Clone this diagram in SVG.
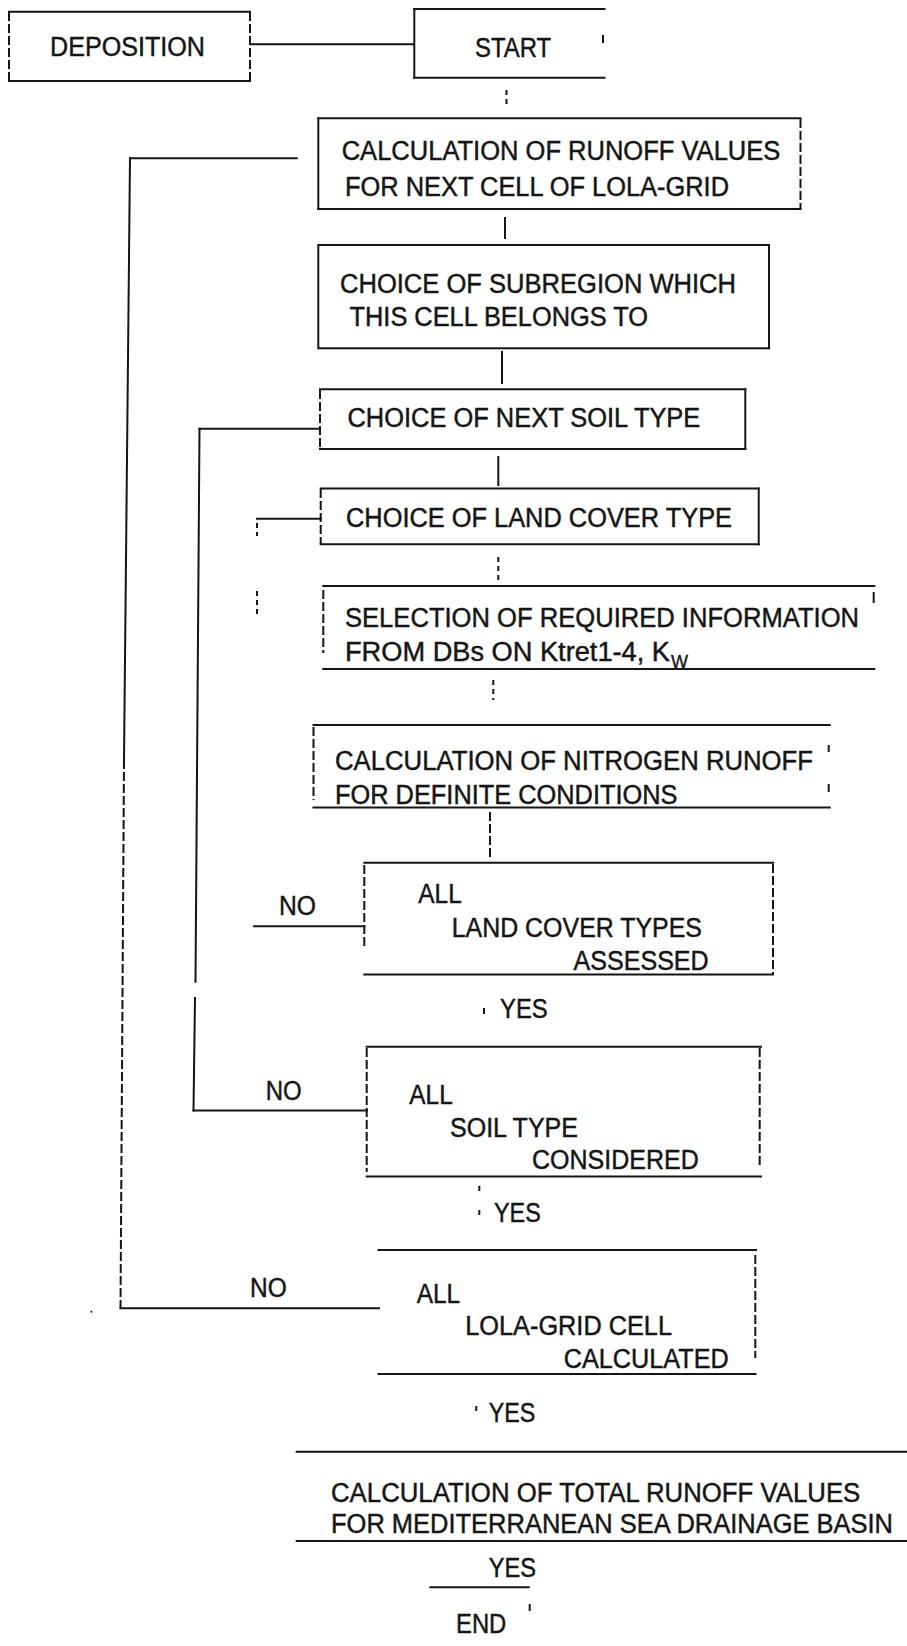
<svg xmlns="http://www.w3.org/2000/svg" width="907" height="1646" viewBox="0 0 907 1646">
<style>
  .ln { stroke: #151515; stroke-width: 2; fill: none; stroke-linecap: square; }
  .ds { stroke: #151515; stroke-width: 2; fill: none; stroke-dasharray: 9 3; }
  .dl { stroke: #151515; stroke-width: 2; fill: none; stroke-dasharray: 5 4; }
  .t { font-family: "Liberation Sans", Arial, sans-serif; font-size: 27px; fill: #151515; stroke: #151515; stroke-width: 0.45; }
  .sub { font-family: "Liberation Sans", Arial, sans-serif; font-size: 18px; fill: #151515; stroke: #151515; stroke-width: 0.35; }
</style>
<rect x="0" y="0" width="907" height="1646" fill="#ffffff"/>

<g id="connectors">
  <line class="ln" x1="250" y1="44.3" x2="413.5" y2="44.3"/>
  <line class="dl" x1="506.5" y1="90" x2="506.5" y2="107"/>
  <line class="ln" x1="505" y1="218" x2="505" y2="238"/>
  <line class="ln" x1="502" y1="352" x2="502" y2="383"/>
  <line class="ln" x1="498.3" y1="457" x2="498.3" y2="485"/>
  <line class="dl" x1="498.3" y1="557" x2="498.3" y2="583"/>
  <line class="dl" x1="493.3" y1="680" x2="493.3" y2="700"/>
  <line class="ds" x1="490" y1="812" x2="490" y2="858"/>
  <!-- outer loop (grid cells) -->
  <line class="ln" x1="130" y1="158.3" x2="296.7" y2="158.3"/>
  <line class="ln" x1="130" y1="158.3" x2="124" y2="760"/>
  <line class="ds" x1="124" y1="760" x2="120.5" y2="1308.3"/>
  <line class="ln" x1="120.5" y1="1308.3" x2="379" y2="1308.3"/>
  <!-- soil loop -->
  <line class="ln" x1="199.5" y1="428.7" x2="318.5" y2="428.7"/>
  <line class="ln" x1="199.5" y1="428.7" x2="195.5" y2="981.7"/>
  <line class="ln" x1="195" y1="998" x2="193.5" y2="1110.5"/>
  <line class="ln" x1="193.5" y1="1110.5" x2="367" y2="1110.5"/>
  <!-- land cover loop -->
  <line class="ln" x1="257" y1="518.7" x2="320.7" y2="518.7"/>
  <line class="dl" x1="257" y1="523" x2="257" y2="536"/>
  <line class="dl" x1="257" y1="591" x2="257" y2="615"/>
  <line class="ln" x1="254" y1="926.3" x2="364.3" y2="926.3"/>
  <!-- yes marks -->
  <line class="ln" x1="484" y1="1009" x2="484" y2="1013"/>
  <line class="ln" x1="479.3" y1="1186.7" x2="479.3" y2="1190"/>
  <line class="ln" x1="479.3" y1="1211" x2="479.3" y2="1214"/>
  <line class="ln" x1="476.3" y1="1407" x2="476.3" y2="1410"/>
  <line class="ln" x1="430.3" y1="1587.3" x2="528.7" y2="1587.3"/>
  <line class="ln" x1="529.7" y1="1605" x2="529.7" y2="1610"/>
  <circle cx="91.4" cy="1311.7" r="1" fill="#151515"/>
</g>

<g id="deposition">
  <line class="ln" x1="9" y1="11.7" x2="250" y2="11.7"/>
  <line class="ln" x1="9" y1="81" x2="250" y2="81"/>
  <line class="ds" x1="9" y1="12" x2="9" y2="81"/>
  <line class="ds" x1="250" y1="12" x2="250" y2="81"/>
  <text class="t" x="50" y="56" textLength="155" lengthAdjust="spacingAndGlyphs">DEPOSITION</text>
</g>

<g id="start">
  <line class="ln" x1="414.3" y1="9" x2="604.5" y2="9"/>
  <line class="ln" x1="414.3" y1="77.7" x2="604.5" y2="77.7"/>
  <line class="ln" x1="414.3" y1="9" x2="414.3" y2="77.7"/>
  <line class="ln" x1="603" y1="36" x2="603" y2="42"/>
  <text class="t" x="475" y="56.5" textLength="76" lengthAdjust="spacingAndGlyphs">START</text>
</g>

<g id="calc-cell">
  <line class="ln" x1="318.3" y1="118.3" x2="800.5" y2="118.3"/>
  <line class="ln" x1="318.3" y1="209" x2="800.5" y2="209"/>
  <line class="ln" x1="318.3" y1="118.3" x2="318.3" y2="209"/>
  <line class="ds" x1="800.5" y1="119" x2="800.5" y2="209"/>
  <text class="t" x="341.7" y="160" textLength="438.6" lengthAdjust="spacingAndGlyphs">CALCULATION OF RUNOFF VALUES</text>
  <text class="t" x="345" y="195.5" textLength="384" lengthAdjust="spacingAndGlyphs">FOR NEXT CELL OF LOLA-GRID</text>
</g>

<g id="subregion">
  <rect class="ln" x="318.3" y="245" width="450.7" height="103.3"/>
  <text class="t" x="340" y="292.5" textLength="396" lengthAdjust="spacingAndGlyphs">CHOICE OF SUBREGION WHICH</text>
  <text class="t" x="349.5" y="326.3" textLength="298.5" lengthAdjust="spacingAndGlyphs">THIS CELL BELONGS TO</text>
</g>

<g id="soil-type">
  <line class="ln" x1="320" y1="389.3" x2="745.3" y2="389.3"/>
  <line class="ln" x1="320" y1="449" x2="745.3" y2="449"/>
  <line class="ds" x1="320" y1="390" x2="320" y2="449"/>
  <line class="ln" x1="745.3" y1="389.3" x2="745.3" y2="449"/>
  <text class="t" x="347.5" y="426.7" textLength="352.8" lengthAdjust="spacingAndGlyphs">CHOICE OF NEXT SOIL TYPE</text>
</g>

<g id="land-cover">
  <line class="ln" x1="320.7" y1="488.5" x2="758.7" y2="488.5"/>
  <line class="ln" x1="320.7" y1="544.3" x2="758.7" y2="544.3"/>
  <line class="ds" x1="320.7" y1="489" x2="320.7" y2="544"/>
  <line class="ln" x1="758.7" y1="488.5" x2="758.7" y2="544.3"/>
  <text class="t" x="346" y="526.7" textLength="386" lengthAdjust="spacingAndGlyphs">CHOICE OF LAND COVER TYPE</text>
</g>

<g id="selection">
  <line class="ln" x1="323.3" y1="586" x2="874.3" y2="586"/>
  <line class="ln" x1="323.3" y1="669" x2="874.3" y2="669"/>
  <line class="ds" x1="323.3" y1="590" x2="323.3" y2="653"/>
  <line class="ln" x1="873.7" y1="593" x2="873.7" y2="602"/>
  <text class="t" x="345" y="626.7" textLength="514" lengthAdjust="spacingAndGlyphs">SELECTION OF REQUIRED INFORMATION</text>
  <text class="t" x="345" y="661" textLength="325" lengthAdjust="spacingAndGlyphs">FROM DBs ON Ktret1-4, K</text>
  <text class="sub" x="671" y="668">W</text>
</g>

<g id="nitrogen">
  <line class="ln" x1="313.5" y1="725" x2="829.7" y2="725"/>
  <line class="ln" x1="313.5" y1="807.5" x2="829.7" y2="807.5"/>
  <line class="ds" x1="313.5" y1="727" x2="313.5" y2="800"/>
  <line class="ln" x1="828.7" y1="746" x2="828.7" y2="751"/>
  <line class="ln" x1="828.7" y1="785" x2="828.7" y2="791"/>
  <text class="t" x="335" y="770" textLength="478" lengthAdjust="spacingAndGlyphs">CALCULATION OF NITROGEN RUNOFF</text>
  <text class="t" x="335" y="804" textLength="342.5" lengthAdjust="spacingAndGlyphs">FOR DEFINITE CONDITIONS</text>
</g>

<g id="land-assessed">
  <line class="ln" x1="364.3" y1="862.7" x2="773" y2="862.7"/>
  <line class="ln" x1="364.3" y1="974.5" x2="773" y2="974.5"/>
  <line class="ds" x1="364.3" y1="865" x2="364.3" y2="947"/>
  <line class="ds" x1="773" y1="864" x2="773" y2="974"/>
  <text class="t" x="279" y="915" textLength="37" lengthAdjust="spacingAndGlyphs">NO</text>
  <text class="t" x="418.3" y="903.3" textLength="43.4" lengthAdjust="spacingAndGlyphs">ALL</text>
  <text class="t" x="451.7" y="936.7" textLength="250.3" lengthAdjust="spacingAndGlyphs">LAND COVER TYPES</text>
  <text class="t" x="573.5" y="970" textLength="135.2" lengthAdjust="spacingAndGlyphs">ASSESSED</text>
  <text class="t" x="500" y="1018.3" textLength="47.7" lengthAdjust="spacingAndGlyphs">YES</text>
</g>

<g id="soil-considered">
  <line class="ln" x1="366.7" y1="1046.7" x2="761" y2="1046.7"/>
  <line class="ln" x1="366.7" y1="1176.5" x2="761" y2="1176.5"/>
  <line class="ds" x1="366.7" y1="1048" x2="366.7" y2="1172"/>
  <line class="ds" x1="759.7" y1="1048" x2="759.7" y2="1165"/>
  <text class="t" x="265.7" y="1100" textLength="36" lengthAdjust="spacingAndGlyphs">NO</text>
  <text class="t" x="409.3" y="1104" textLength="43.4" lengthAdjust="spacingAndGlyphs">ALL</text>
  <text class="t" x="450" y="1136.7" textLength="128" lengthAdjust="spacingAndGlyphs">SOIL TYPE</text>
  <text class="t" x="532" y="1169.3" textLength="166.7" lengthAdjust="spacingAndGlyphs">CONSIDERED</text>
  <text class="t" x="494" y="1221.7" textLength="46.7" lengthAdjust="spacingAndGlyphs">YES</text>
</g>

<g id="grid-calculated">
  <line class="ln" x1="378.5" y1="1250" x2="756" y2="1250"/>
  <line class="ln" x1="378.5" y1="1374" x2="755.5" y2="1374"/>
  <line class="ds" x1="755.3" y1="1255" x2="755.3" y2="1358"/>
  <text class="t" x="250" y="1296.7" textLength="36.7" lengthAdjust="spacingAndGlyphs">NO</text>
  <text class="t" x="416.7" y="1302.7" textLength="43.4" lengthAdjust="spacingAndGlyphs">ALL</text>
  <text class="t" x="465.3" y="1335" textLength="206.7" lengthAdjust="spacingAndGlyphs">LOLA-GRID CELL</text>
  <text class="t" x="563.7" y="1368.3" textLength="165" lengthAdjust="spacingAndGlyphs">CALCULATED</text>
  <text class="t" x="488.7" y="1421.7" textLength="46.6" lengthAdjust="spacingAndGlyphs">YES</text>
</g>

<g id="total-runoff">
  <line class="ln" x1="296.7" y1="1451.7" x2="906" y2="1451.7"/>
  <line class="ln" x1="296.7" y1="1541" x2="906" y2="1541"/>
  <text class="t" x="331" y="1501.7" textLength="529.3" lengthAdjust="spacingAndGlyphs">CALCULATION OF TOTAL RUNOFF VALUES</text>
  <text class="t" x="331" y="1533.3" textLength="562" lengthAdjust="spacingAndGlyphs">FOR MEDITERRANEAN SEA DRAINAGE BASIN</text>
  <text class="t" x="488.7" y="1576.7" textLength="47.3" lengthAdjust="spacingAndGlyphs">YES</text>
</g>

<g id="end">
  <text class="t" x="456" y="1633.3" textLength="50.3" lengthAdjust="spacingAndGlyphs">END</text>
</g>
</svg>
